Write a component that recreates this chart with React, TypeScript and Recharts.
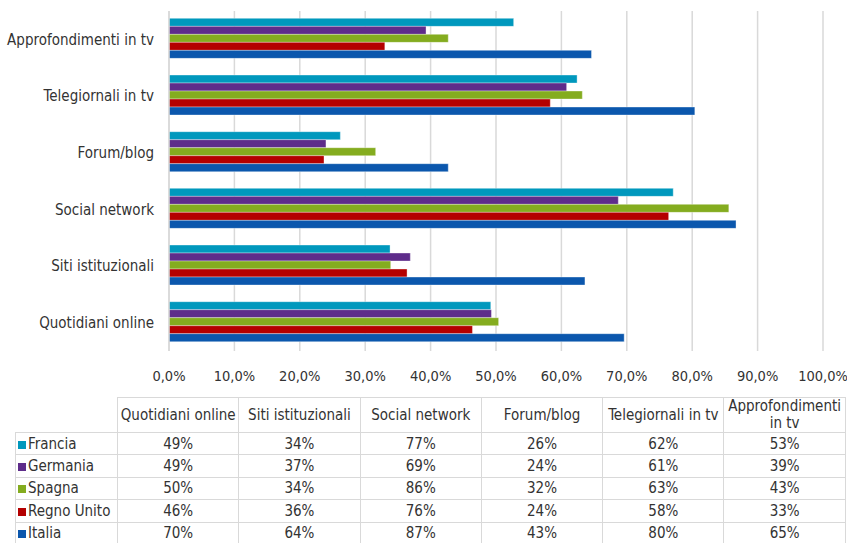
import React from "react";
import { BarChart, Bar, XAxis, YAxis, CartesianGrid } from "recharts";

const categories = [
  "Quotidiani online",
  "Siti istituzionali",
  "Social network",
  "Forum/blog",
  "Telegiornali in tv",
  "Approfondimenti in tv",
];
const countries = ["Francia", "Germania", "Spagna", "Regno Unito", "Italia"];
const francia = [49.2, 33.8, 77.1, 26.2, 62.4, 52.7];
const germania = [49.3, 36.9, 68.7, 24.0, 60.8, 39.3];
const spagna = [50.4, 33.9, 85.6, 31.6, 63.2, 42.7];
const regnoUnito = [46.4, 36.4, 76.4, 23.7, 58.3, 33.0];
const italia = [69.6, 63.6, 86.7, 42.7, 80.4, 64.6];
const xTicks = [0, 10, 20, 30, 40, 50, 60, 70, 80, 90, 100];

const seriesValues = [francia, germania, spagna, regnoUnito, italia];
const colors = ["#0098BD", "#5E2C8A", "#84AC1F", "#B40000", "#0B57AD"];
const FONT = "'DejaVu Sans Condensed', 'DejaVu Sans', sans-serif";
const TEXT = "#333333";
const GRID = "#d9d9d9";

// chart shows last category on top
const chartData = categories
  .map((name, i) => {
    const row: Record<string, string | number> = { name };
    countries.forEach((c, s) => {
      row[c] = seriesValues[s][i];
    });
    return row;
  })
  .reverse();

const pct = (v: number) => v.toFixed(1).replace(".", ",") + "%";

const cell: React.CSSProperties = {
  border: `1px solid ${GRID}`,
  textAlign: "center",
  padding: 0,
  height: 21.4,
  lineHeight: "14px",
};

export default function App() {
  return (
    <div
      style={{
        position: "absolute",
        left: 0,
        top: 0,
        width: 847,
        height: 543,
        background: "#fff",
        fontFamily: FONT,
        overflow: "hidden",
      }}
    >
      <BarChart
        width={847}
        height={392}
        data={chartData}
        layout="vertical"
        margin={{ top: 11, right: 24, left: 0, bottom: 11 }}
        barCategoryGap="13%"
        barGap={0}
      >
        <CartesianGrid vertical horizontal={false} stroke={GRID} strokeWidth={1.5} />
        <XAxis
          type="number"
          domain={[0, 100]}
          ticks={xTicks}
          tickFormatter={pct}
          axisLine={false}
          tickLine={false}
          height={30}
          tickMargin={14}
          tick={{ fill: TEXT, fontSize: 14.5, fontFamily: FONT }}
        />
        <YAxis
          type="category"
          dataKey="name"
          width={169}
          axisLine={{ stroke: GRID, strokeWidth: 1.5 }}
          tickLine={false}
          tickMargin={9}
          tick={{ fill: TEXT, fontSize: 15, fontFamily: FONT }}
        />
        {countries.map((c, s) => (
          <Bar
            key={c}
            dataKey={c}
            fill={colors[s]}
            stroke="rgba(255,255,255,0.35)"
            strokeWidth={1}
            isAnimationActive={false}
          />
        ))}
      </BarChart>
      <table
        style={{
          position: "absolute",
          left: 15,
          top: 397,
          borderCollapse: "collapse",
          tableLayout: "fixed",
          fontFamily: FONT,
          fontSize: 15,
          color: TEXT,
        }}
      >
        <colgroup>
          <col style={{ width: 102 }} />
          {categories.map((c) => (
            <col key={c} style={{ width: 121.3 }} />
          ))}
        </colgroup>
        <tbody>
          <tr>
            <td style={{ ...cell, border: "none", height: 34 }} />
            {categories.map((c) => (
              <td key={c} style={{ ...cell, height: 34, lineHeight: "17px" }}>
                {c}
              </td>
            ))}
          </tr>
          {countries.map((c, s) => (
            <tr key={c}>
              <td style={{ ...cell, textAlign: "left", paddingLeft: 2, whiteSpace: "nowrap" }}>
                <span
                  style={{
                    display: "inline-block",
                    width: 8,
                    height: 8,
                    background: colors[s],
                    marginRight: 2,
                  }}
                />
                {c}
              </td>
              {seriesValues[s].map((v, i) => (
                <td key={i} style={cell}>
                  {Math.round(v)}%
                </td>
              ))}
            </tr>
          ))}
        </tbody>
      </table>
    </div>
  );
}
